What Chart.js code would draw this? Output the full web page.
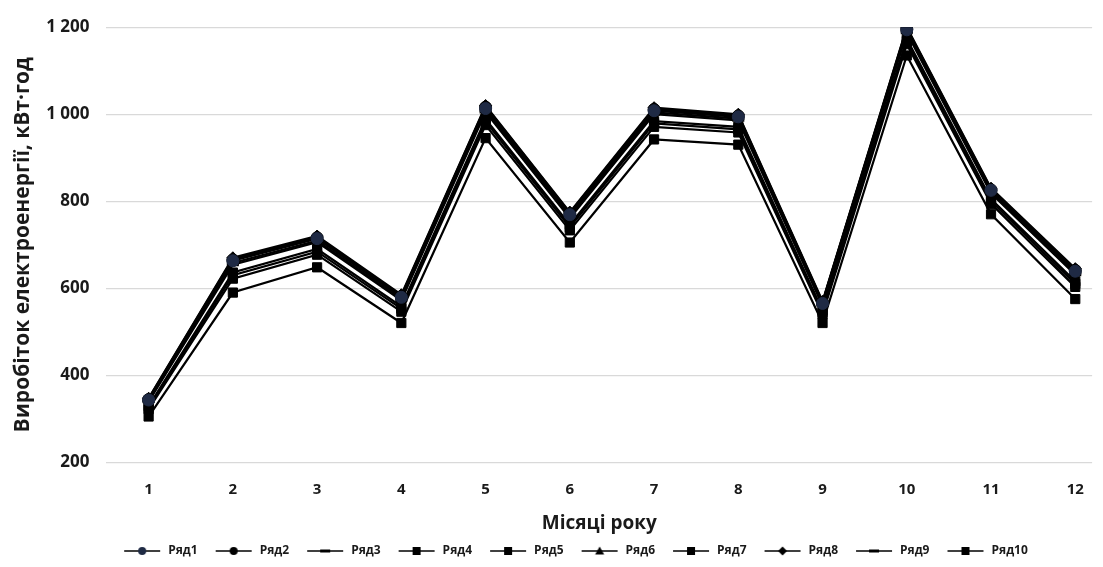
<!DOCTYPE html>
<html>
<head>
<meta charset="utf-8">
<script src="https://cdn.jsdelivr.net/npm/chart.js@4/dist/chart.umd.min.js"></script>
<style>
html,body{margin:0;padding:0;background:#fff;}
#wrap{width:1103px;height:567px;}
</style>
</head>
<body>
<div id="wrap"><canvas id="c" width="1103" height="567"></canvas></div>
<script>
const months = [1,2,3,4,5,6,7,8,9,10,11,12];
const yTicks = [200,400,600,800,1000,1200];
const seriesNames = ['Ряд1','Ряд2','Ряд3','Ряд4','Ряд5','Ряд6','Ряд7','Ряд8','Ряд9','Ряд10'];
const r1  = [343,663,714,579,1013,769,1008,994,565,1194,825,639];
const r2  = [344,665,716,581,1016,771,1011,996,567,1196,826,641];
const r3  = [341,658,709,575,1009,765,1004,990,563,1190,821,635];
const r4  = [322,622,677,546,975,733,971,958,540,1161,794,603];
const r5  = [329,636,690,558,989,746,984,971,549,1173,805,616];
const r6  = [346,668,718,583,1018,773,1013,998,568,1198,828,643];
const r7  = [326,630,684,553,983,740,979,965,545,1168,800,610];
const r8  = [347,670,720,585,1020,775,1015,1000,570,1200,830,645];
const r9  = [339,654,706,572,1005,761,1000,986,560,1187,818,631];
const r10 = [305,590,648,520,945,705,942,930,520,1135,770,575];
const seriesValues = [r1,r2,r3,r4,r5,r6,r7,r8,r9,r10];
const markers = ['circle','circle','line','rect','rect','triangle','rect','rectRot','line','rect'];
const markerColors = ['#1f2a44','#000','#000','#000','#000','#000','#000','#000','#000','#000'];

const FONT = "'Open Sans', 'DejaVu Sans', sans-serif";
const TXT = '#1a1a1a';

function legendIcon(style, color){
  const c = document.createElement('canvas');
  c.width = 50; c.height = 12;
  const g = c.getContext('2d');
  const x0 = 12, x1 = 48;
  g.strokeStyle = '#000'; g.lineWidth = 1.5;
  g.beginPath(); g.moveTo(x0,6); g.lineTo(x1,6); g.stroke();
  g.fillStyle = color; g.strokeStyle = color;
  const x = (x0+x1)/2, y = 6;
  g.beginPath();
  if (style === 'circle') { g.arc(x,y,4,0,Math.PI*2); g.fill(); }
  else if (style === 'rect') { g.fillRect(x-4,y-4,8,8); }
  else if (style === 'triangle') { g.moveTo(x,y-4.5); g.lineTo(x+4.5,y+3.5); g.lineTo(x-4.5,y+3.5); g.closePath(); g.fill(); }
  else if (style === 'rectRot') { g.moveTo(x,y-4.5); g.lineTo(x+4.5,y); g.lineTo(x,y+4.5); g.lineTo(x-4.5,y); g.closePath(); g.fill(); }
  else if (style === 'line') { g.lineWidth = 3; g.moveTo(x-5,y); g.lineTo(x+5,y); g.stroke(); }
  return c;
}
const icons = markers.map((m,i)=>legendIcon(m, markerColors[i]));

const datasets = seriesNames.map((name,i)=>({
  label: name,
  data: months.map((m,j)=>({x:m, y:seriesValues[i][j]})),
  borderColor: '#000',
  backgroundColor: markerColors[i],
  borderWidth: 2.2,
  pointStyle: markers[i],
  pointRadius: markers[i]==='rect' ? 6.5 : 6,
  pointBorderColor: markerColors[i],
  pointBackgroundColor: markerColors[i],
  pointBorderWidth: markers[i]==='line' ? 3 : 1,
  tension: 0
}));

function fmt(v){ return String(v).replace(/\B(?=(\d{3})+(?!\d))/g,' '); }

const legendShift = {
  id: 'legendShift',
  afterLayout(chart){
    const l = chart.legend;
    if (l) { l.left += 15; l.right += 15; }
  }
};

new Chart(document.getElementById('c'), {
  type: 'line',
  data: { datasets },
  plugins: [legendShift],
  options: {
    responsive: false,
    animation: false,
    layout: { padding: { top: 14, right: 3, left: 10, bottom: 0 } },
    plugins: {
      tooltip: { enabled: false },
      legend: {
        position: 'bottom',
        labels: {
          usePointStyle: true,
          pointStyleWidth: 50,
          boxHeight: 12,
          padding: 6,
          color: TXT,
          font: { family: FONT, size: 12, weight: 'bold' },
          generateLabels(chart){
            return chart.data.datasets.map((d,i)=>({
              text: d.label, pointStyle: icons[i], fillStyle: '#000', strokeStyle: '#000',
              lineWidth: 0, hidden: false, datasetIndex: i, fontColor: TXT
            }));
          }
        }
      }
    },
    scales: {
      x: {
        type: 'linear',
        min: 0.5, max: 12.2,
        afterBuildTicks(scale){ scale.ticks = months.map(v=>({value:v})); },
        ticks: { color: TXT, font: { family: FONT, size: 15, weight: 'bold' }, padding: 19, includeBounds: false },
        grid: { display: false, drawTicks: false },
        border: { display: false },
        title: { display: true, text: 'Місяці року', color: TXT, font: { family: FONT, size: 19, weight: 'bold' }, padding: { top: -6, bottom: 4 } }
      },
      y: {
        min: 200, max: 1200,
        afterBuildTicks(scale){ scale.ticks = yTicks.map(v=>({value:v})); },
        ticks: { color: TXT, font: { family: FONT, size: 17, weight: 'bold' }, padding: 17, callback: v => fmt(v) },
        grid: { color: '#d9d9d9', lineWidth: 1.3, drawTicks: false },
        border: { display: false },
        title: { display: true, text: 'Виробіток електроенергії, кВт·год', color: TXT, font: { family: FONT, size: 21, weight: 'bold' }, padding: { top: 0, bottom: -6 } }
      }
    }
  }
});
</script>
</body>
</html>
